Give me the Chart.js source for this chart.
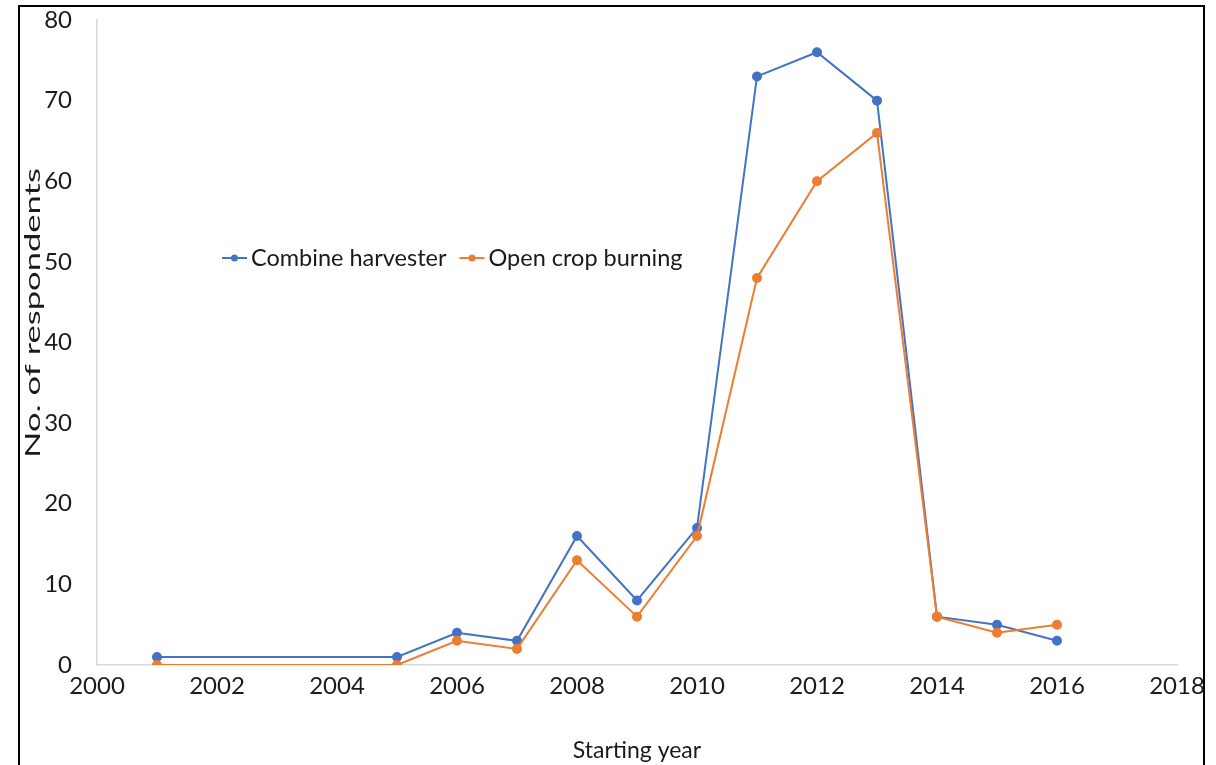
<!DOCTYPE html>
<html>
<head>
<meta charset="utf-8">
<script src="https://cdn.jsdelivr.net/npm/chart.js@4.4.0/dist/chart.umd.min.js"></script>
<style>
  html, body { margin: 0; padding: 0; background: #fff; }
  #wrap { position: relative; width: 1216px; height: 765px; overflow: hidden; }
  #frame { position: absolute; left: 18px; top: 5px; width: 1187px; height: 800px; border: 2px solid #000; box-sizing: border-box; }
  canvas { position: absolute; left: 0; top: 0; }
</style>
</head>
<body>
<div id="wrap">
  <div id="frame"></div>
  <canvas id="chart" width="1216" height="765"></canvas>
</div>
<script>
// data
const years = [2001, 2005, 2006, 2007, 2008, 2009, 2010, 2011, 2012, 2013, 2014, 2015, 2016];
const combineHarvester = [1, 1, 4, 3, 16, 8, 17, 73, 76, 70, 6, 5, 3];
const openCropBurning = [0, 0, 3, 2, 13, 6, 16, 48, 60, 66, 6, 4, 5];
const seriesNames = ["Combine harvester", "Open crop burning"];
const seriesColors = ["#4472C4", "#ED7D31"];
const yTitle = "No. of respondents";

const FONT = "Lato, 'Open Sans', sans-serif";

function toPoints(vals) {
  return years.map((y, i) => ({ x: y, y: vals[i] }));
}

// legend sits inside the plot, like the original
const innerLegend = {
  id: "innerLegend",
  afterDraw(chart) {
    const ctx = chart.ctx;
    ctx.save();
    ctx.font = "23.5px " + FONT;
    ctx.textBaseline = "middle";
    let x = 222;
    const y = 258;
    seriesNames.forEach((name, i) => {
      ctx.strokeStyle = seriesColors[i];
      ctx.lineWidth = 2;
      ctx.beginPath();
      ctx.moveTo(x, y);
      ctx.lineTo(x + 25, y);
      ctx.stroke();
      ctx.fillStyle = seriesColors[i];
      ctx.beginPath();
      ctx.arc(x + 12.5, y, 3.5, 0, Math.PI * 2);
      ctx.fill();
      ctx.fillStyle = "#1a1a1a";
      ctx.fillText(name, x + 29, y);
      x += 29 + ctx.measureText(name).width + 13;
    });

    // y axis title, stretched along its length as in the source image
    ctx.translate(33, 313);
    ctx.rotate(-Math.PI / 2);
    ctx.scale(1.57, 1);
    ctx.font = "22px " + FONT;
    ctx.textAlign = "center";
    ctx.fillStyle = "#1a1a1a";
    ctx.fillText(yTitle, 0, 0);
    ctx.restore();
  }
};

new Chart("chart", {
  type: "line",
  data: {
    datasets: [
      {
        label: seriesNames[0],
        data: toPoints(combineHarvester),
        borderColor: seriesColors[0],
        backgroundColor: seriesColors[0],
        borderWidth: 2,
        pointRadius: 4,
        pointHoverRadius: 4,
        tension: 0,
        order: 1,
      },
      {
        label: seriesNames[1],
        data: toPoints(openCropBurning),
        borderColor: seriesColors[1],
        backgroundColor: seriesColors[1],
        borderWidth: 2,
        pointRadius: 4,
        pointHoverRadius: 4,
        tension: 0,
        order: 0,
      },
    ],
  },
  options: {
    responsive: false,
    animation: false,
    layout: { padding: { left: 0, top: 20, right: 39, bottom: 0 } },
    plugins: {
      legend: { display: false },
      tooltip: { enabled: false },
    },
    scales: {
      x: {
        type: "linear",
        min: 2000,
        max: 2018,
        afterFit: (s) => { s.height = 100; },
        grid: { display: false, drawTicks: false },
        border: { display: true, color: "#d9d9d9", width: 1.5 },
        ticks: {
          stepSize: 2,
          padding: 7,
          color: "#1a1a1a",
          font: { size: 24, family: FONT },
          callback: (v) => String(v),
        },
        title: {
          display: true,
          text: "Starting year",
          color: "#1a1a1a",
          font: { size: 23, family: FONT },
          padding: { top: 0, bottom: 1 },
        },
      },
      y: {
        min: 0,
        max: 80,
        afterFit: (s) => { s.width = 97; s.paddingTop = 0; s.paddingBottom = 0; },
        grid: { display: false, drawTicks: false },
        border: { display: true, color: "#d9d9d9", width: 1.5 },
        ticks: {
          stepSize: 10,
          padding: 25,
          color: "#1a1a1a",
          font: { size: 24, family: FONT },
        },
      },
    },
  },
  plugins: [innerLegend],
});
</script>
</body>
</html>
